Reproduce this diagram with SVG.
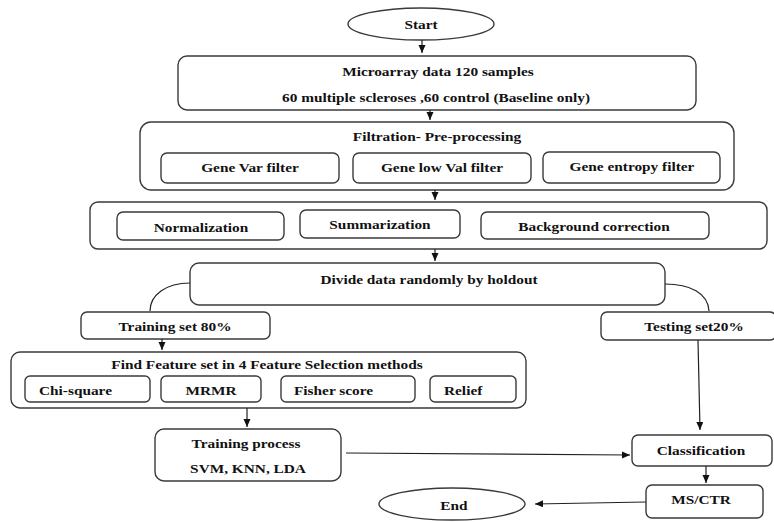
<svg xmlns="http://www.w3.org/2000/svg" width="774" height="522" viewBox="0 0 774 522">
<defs>
<style>
.b{fill:#fff;stroke:#3a3a3a;stroke-width:1.4}
.t{font-family:"Liberation Serif","Times New Roman",serif;font-weight:bold;font-size:13px;fill:#111;text-anchor:middle;dominant-baseline:central}
.l{text-anchor:start}
.c{fill:none;stroke:#222;stroke-width:1.2}
</style>
<marker id="ah" markerUnits="userSpaceOnUse" markerWidth="9" markerHeight="8" refX="8" refY="3.5" orient="auto">
<path d="M0,0 L8,3.5 L0,7 z" fill="#111"/>
</marker>
</defs>
<rect width="774" height="522" fill="#fff"/>

<g id="start">
<ellipse class="b" cx="421" cy="24" rx="73" ry="16"/>
<text class="t" transform="matrix(1.18,0,0,1,421,24)">Start</text>
</g>

<g id="microarray">
<rect class="b" x="178" y="56" width="518" height="54" rx="9"/>
<text class="t" transform="matrix(1.18,0,0,1,438,71)">Microarray data 120 samples</text>
<text class="t" transform="matrix(1.18,0,0,1,436,97)">60 multiple scleroses ,60 control (Baseline only)</text>
</g>

<g id="filtration">
<rect class="b" x="140" y="122" width="594" height="68" rx="11"/>
<text class="t" transform="matrix(1.18,0,0,1,437,136)">Filtration- Pre-processing</text>
<rect class="b" x="161" y="153" width="178" height="30" rx="6"/>
<text class="t" transform="matrix(1.18,0,0,1,250,167)">Gene Var  filter</text>
<rect class="b" x="353" y="153" width="178" height="30" rx="6"/>
<text class="t" transform="matrix(1.18,0,0,1,442,167)">Gene low Val filter</text>
<rect class="b" x="543" y="152" width="177" height="31" rx="6"/>
<text class="t" transform="matrix(1.18,0,0,1,632,166)">Gene entropy filter</text>
</g>

<g id="preprocess">
<rect class="b" x="90" y="202" width="677" height="47" rx="8"/>
<rect class="b" x="117" y="212" width="167" height="28" rx="6"/>
<text class="t" transform="matrix(1.18,0,0,1,201,227)">Normalization</text>
<rect class="b" x="300" y="210" width="160" height="28" rx="6"/>
<text class="t" transform="matrix(1.18,0,0,1,380,224)">Summarization</text>
<rect class="b" x="481" y="212" width="228" height="27" rx="6"/>
<text class="t" transform="matrix(1.18,0,0,1,594,226)">Background correction</text>
</g>

<g id="divide">
<rect class="b" x="190" y="263" width="475" height="42" rx="9"/>
<text class="t" transform="matrix(1.18,0,0,1,429,279)">Divide data randomly by holdout</text>
</g>

<g id="training-set">
<rect class="b" x="81" y="312" width="189" height="27" rx="6"/>
<text class="t" transform="matrix(1.18,0,0,1,175,326)">Training set 80%</text>
</g>

<g id="testing-set">
<rect class="b" x="601" y="312" width="175" height="28" rx="6"/>
<text class="t" transform="matrix(1.18,0,0,1,694,326)">Testing set20%</text>
</g>

<g id="feature-selection">
<rect class="b" x="11" y="352" width="515" height="56" rx="9"/>
<text class="t" transform="matrix(1.18,0,0,1,267,364)">Find Feature set in 4 Feature Selection methods</text>
<rect class="b" x="25" y="376" width="125" height="26" rx="5"/>
<text class="t l" transform="matrix(1.18,0,0,1,39,390)">Chi-square</text>
<rect class="b" x="161" y="376" width="100" height="26" rx="5"/>
<text class="t" transform="matrix(1.18,0,0,1,211,390)">MRMR</text>
<rect class="b" x="281" y="376" width="134" height="26" rx="5"/>
<text class="t l" transform="matrix(1.18,0,0,1,294,390)">Fisher score</text>
<rect class="b" x="430" y="376" width="86" height="26" rx="5"/>
<text class="t l" transform="matrix(1.18,0,0,1,444,390)">Relief</text>
</g>

<g id="training-process">
<rect class="b" x="155" y="429" width="186" height="52" rx="9"/>
<text class="t" transform="matrix(1.18,0,0,1,246,443)">Training process</text>
<text class="t" transform="matrix(1.18,0,0,1,248,468)">SVM, KNN, LDA</text>
</g>

<g id="classification">
<rect class="b" x="632" y="435" width="140" height="31" rx="6"/>
<text class="t" transform="matrix(1.18,0,0,1,701,450)">Classification</text>
</g>

<g id="ms-ctr">
<rect class="b" x="646" y="485" width="117" height="33" rx="6"/>
<text class="t" transform="matrix(1.18,0,0,1,701,499)">MS/CTR</text>
</g>

<g id="end">
<ellipse class="b" cx="452" cy="504" rx="73" ry="16"/>
<text class="t" transform="matrix(1.18,0,0,1,454,505)">End</text>
</g>

<g id="connectors">
<path class="c" d="M422,40 V53" marker-end="url(#ah)"/>
<path class="c" d="M430,110 V120" marker-end="url(#ah)"/>
<path class="c" d="M435,190 V200" marker-end="url(#ah)"/>
<path class="c" d="M435,249 V261" marker-end="url(#ah)"/>
<path class="c" d="M190,283 C166,283 150,295 150,311"/>
<path class="c" d="M665,284 C690,284 708,293 709,311"/>
<path class="c" d="M162,339 V350" marker-end="url(#ah)"/>
<path class="c" d="M247,408 V427" marker-end="url(#ah)"/>
<path class="c" d="M698,340 L700,430" marker-end="url(#ah)"/>
<path class="c" d="M346,453 L630,455" marker-end="url(#ah)"/>
<path class="c" d="M706,466 V483" marker-end="url(#ah)"/>
<path class="c" d="M646,502 L535,504" marker-end="url(#ah)"/>
</g>
</svg>
